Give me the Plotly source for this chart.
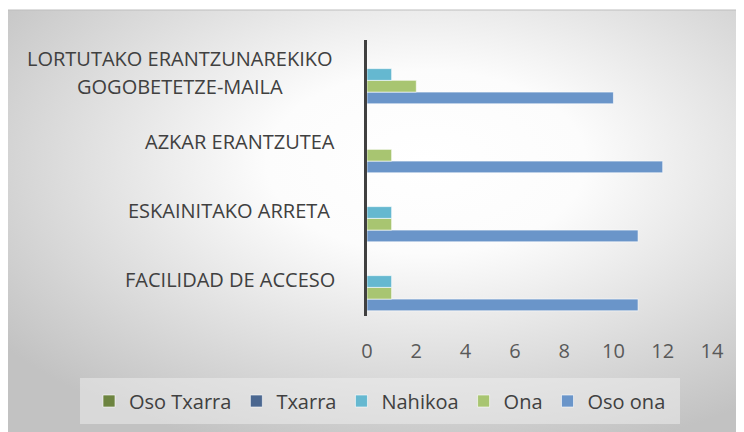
import base64
import plotly.graph_objects as go

categories = ["FACILIDAD DE ACCESO", "ESKAINITAKO ARRETA ", "AZKAR ERANTZUTEA",
              "LORTUTAKO ERANTZUNAREKIKO\nGOGOBETETZE-MAILA"]
series_names = ["Oso ona", "Ona", "Nahikoa", "Txarra", "Oso Txarra"]
oso_ona = [11, 11, 12, 10]
ona = [1, 1, 1, 2]
nahikoa = [1, 1, 0, 1]
txarra = [0, 0, 0, 0]
oso_txarra = [0, 0, 0, 0]
x_ticks = [0, 2, 4, 6, 8, 10, 12, 14]

values = [oso_ona, ona, nahikoa, txarra, oso_txarra]
colors = ["#6a95c9", "#a8c571", "#65b8d0", "#4b6790", "#6d8440"]

FONT = "Open Sans"
FS = 20

# page body has an 8px margin; figure is sized so it fills the window
OFF = 8
W, H = 744 - OFF, 432 - OFF
L, R, T, B = 367 - OFF, 32, 40 - OFF, 116
pw, ph = W - L - R, H - T - B

def px_x(p):  # reference-image pixel -> paper x
    return (p - OFF - L) / pw

def px_y(p):  # reference-image pixel -> paper y
    return (H - B - (p - OFF)) / ph

cat_ids = list(range(len(categories)))

fig = go.Figure()
for name, vals, col in zip(series_names, values, colors):
    fig.add_trace(go.Bar(
        y=cat_ids, x=vals, name=name, orientation="h",
        marker=dict(color=col, line=dict(color="rgba(255,255,255,0.6)", width=1)),
    ))

svg = '''<svg xmlns="http://www.w3.org/2000/svg" width="739" height="422" viewBox="0 0 739 422">
<defs><radialGradient id="g" cx="0.57" cy="0.36" r="0.72" gradientUnits="objectBoundingBox">
<stop offset="0" stop-color="#ffffff"/><stop offset="0.3" stop-color="#fcfcfc"/>
<stop offset="1" stop-color="#c2c2c2"/></radialGradient></defs>
<rect width="739" height="422" fill="url(#g)"/></svg>'''
src = "data:image/svg+xml;base64," + base64.b64encode(svg.encode()).decode()

fig.add_layout_image(dict(
    source=src, xref="paper", yref="paper",
    x=px_x(5), y=px_y(10), sizex=739 / pw, sizey=422 / ph,
    xanchor="left", yanchor="top", sizing="stretch", layer="below",
))

shapes = [
    dict(type="rect", xref="paper", yref="paper", x0=px_x(5), x1=px_x(746),
         y0=px_y(10), y1=px_y(434), line=dict(color="#bdbdbd", width=1),
         fillcolor="rgba(0,0,0,0)", layer="below"),
    dict(type="rect", xref="paper", yref="paper", x0=px_x(80), x1=px_x(680),
         y0=px_y(378), y1=px_y(424), line=dict(width=0),
         fillcolor="rgba(240,240,240,0.5)", layer="below"),
]

annotations = []
for i, cat in enumerate(categories):
    lines = cat.split("\n")
    n = len(lines)
    for j, ln in enumerate(lines):
        annotations.append(dict(
            x=px_x(337) if n == 1 else px_x(180), xref="paper", y=i, yref="y",
            text=ln, showarrow=False,
            xanchor="right" if n == 1 else "center", yanchor="middle",
            yshift=(n - 1) / 2 * 28.5 - j * 28.5 + 2,
            font=dict(family=FONT, size=FS, color="#404040"),
        ))

fig.update_layout(
    width=W, height=H, margin=dict(l=L, r=R, t=T, b=B),
    paper_bgcolor="white", plot_bgcolor="rgba(0,0,0,0)",
    barmode="group", bargap=0.15, bargroupgap=0,
    font=dict(family=FONT, size=FS, color="#595959"),
    xaxis=dict(range=[0, 14], tickvals=x_ticks, showgrid=False, zeroline=False,
               showline=False, ticks="outside", ticklen=0, ticklabelstandoff=17,
               tickfont=dict(family=FONT, size=FS, color="#595959")),
    yaxis=dict(range=[-0.5, len(categories) - 0.5], showgrid=False, zeroline=False,
               showticklabels=False, showline=True, linecolor="#404040", linewidth=3),
    legend=dict(orientation="h", traceorder="reversed", x=px_x(89), xanchor="left",
                y=px_y(401), yanchor="middle", bgcolor="rgba(0,0,0,0)",
                font=dict(family=FONT, size=FS, color="#404040"),
                itemwidth=30),
    shapes=shapes, annotations=annotations,
)

fig.write_html("out.html")
